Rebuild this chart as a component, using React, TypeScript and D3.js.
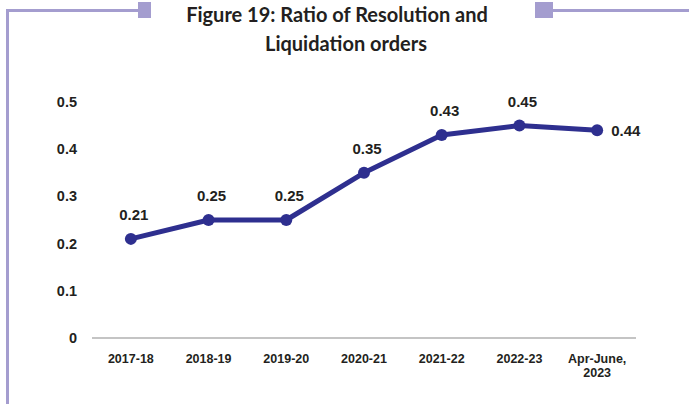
import React from "react";
import * as d3 from "d3";

const categories = ["2017-18", "2018-19", "2019-20", "2020-21", "2021-22", "2022-23", "Apr-June, 2023"];
const values = [0.21, 0.25, 0.25, 0.35, 0.43, 0.45, 0.44];
const yTicks = [0, 0.1, 0.2, 0.3, 0.4, 0.5];
const titleLines = ["Figure 19: Ratio of Resolution and", "Liquidation orders"];

const W = 689;
const H = 404;
const frame = "#a49dcf";
const lineColor = "#2e2f8f";
const textColor = "#231f20";
const labelFont = "'Liberation Sans', Arial, sans-serif";

export default function App() {
  const x = d3.scalePoint<string>().domain(categories).range([92, 636]).padding(0.5);
  const y = d3.scaleLinear().domain([0, 0.5]).range([338, 102]);
  const line = d3.line<number>().x((_, i) => x(categories[i])!).y((d) => y(d));
  const fmt = (v: number) => (v === 0 ? "0" : d3.format(".1f")(v));

  return (
    <svg width={W} height={H} style={{ position: "absolute", left: 0, top: 0, background: "#fff" }}>
      {/* frame */}
      <rect x={6} y={9} width={3} height={H - 9} fill={frame} />
      <rect x={6} y={9} width={133} height={3} fill={frame} />
      <rect x={138} y={2} width={13} height={16} fill={frame} />
      <rect x={535} y={2} width={18} height={16} fill={frame} />
      <rect x={552} y={9} width={W - 552} height={3} fill={frame} />

      {/* title */}
      {titleLines.map((t, i) => (
        <text
          key={i}
          x={i === 0 ? 337 : 346}
          y={22 + i * 29}
          textAnchor="middle"
          fontFamily="Lato, 'Open Sans', sans-serif"
          fontWeight={700}
          fontSize={20}
          fill={textColor}
        >
          {t}
        </text>
      ))}

      {/* y ticks */}
      {yTicks.map((t) => (
        <text
          key={t}
          x={77}
          y={y(t) + 5}
          textAnchor="end"
          fontFamily={labelFont}
          fontWeight={700}
          fontSize={14.5}
          fill={textColor}
        >
          {fmt(t)}
        </text>
      ))}

      {/* x axis */}
      <line x1={92} x2={636} y1={y(0)} y2={y(0)} stroke="#c4c4c4" strokeWidth={2} />
      {categories.map((c) => {
        const parts = c.includes(", ") ? [c.split(", ")[0] + ",", c.split(", ")[1]] : [c];
        return (
          <text
            key={c}
            x={x(c)}
            y={y(0) + 25}
            textAnchor="middle"
            fontFamily={labelFont}
            fontWeight={700}
            fontSize={12.5}
            fill={textColor}
          >
            {parts.map((p, i) => (
              <tspan key={i} x={x(c)} dy={i === 0 ? 0 : 14}>
                {p}
              </tspan>
            ))}
          </text>
        );
      })}

      {/* line */}
      <path d={line(values)!} fill="none" stroke={lineColor} strokeWidth={5} strokeLinejoin="round" />
      {values.map((v, i) => (
        <circle key={i} cx={x(categories[i])} cy={y(v)} r={6} fill={lineColor} />
      ))}

      {/* data labels */}
      {values.map((v, i) => {
        const last = i === values.length - 1;
        return (
          <text
            key={i}
            x={last ? x(categories[i])! + 14 : x(categories[i])! + 3}
            y={last ? y(v) + 6 : y(v) - 19}
            textAnchor={last ? "start" : "middle"}
            fontFamily={labelFont}
            fontWeight={700}
            fontSize={15}
            fill={textColor}
          >
            {v.toFixed(2)}
          </text>
        );
      })}
    </svg>
  );
}
